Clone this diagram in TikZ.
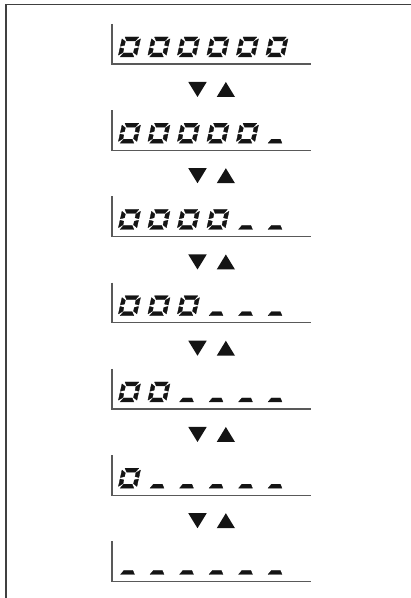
\documentclass[tikz,border=0pt]{standalone}
\begin{document}
\begin{tikzpicture}[x=1pt,y=1pt,
  seg/.style={fill=black!92, draw=black!92, line width=0.3pt, line join=round},
  panelline/.style={draw=black!65, line width=1.1pt, line join=miter},
  frameline/.style={draw=black!75, line width=1.1pt, line join=miter},
  arrowtri/.style={fill=black!92, draw=none},
  pics/zero/.style={code={
    \begin{scope}[xslant=0.22]
      \filldraw[seg] (2.6,20) -- (16.4,20) -- (13.8,16) -- (5.2,16) -- cycle;
      \filldraw[seg] (2.1,0) -- (15.9,0) -- (13.3,4) -- (4.7,4) -- cycle;
      \filldraw[seg] (0,10.7) -- (0,18.2) -- (4,15.4) -- (4,11.7) -- cycle;
      \filldraw[seg] (0,9.3) -- (0,1.8) -- (4,4.6) -- (4,8.3) -- cycle;
      \filldraw[seg] (18.5,10.7) -- (18.5,18.2) -- (14.5,15.4) -- (14.5,11.7) -- cycle;
      \filldraw[seg] (18.5,9.3) -- (18.5,1.8) -- (14.5,4.6) -- (14.5,8.3) -- cycle;
    \end{scope}}},
  pics/dashseg/.style={code={
    \begin{scope}[xslant=0.22]
      \filldraw[seg] (2.5,0) -- (16.5,0) -- (14,4) -- (5,4) -- cycle;
    \end{scope}}}
]
\useasboundingbox (0,0) rectangle (411,598);
% outer frame
\coordinate (fbl) at (6,0);
\coordinate (ftl) at (6,593.3);
\coordinate (ftr) at (411,593.3);
\draw[frameline] (fbl) -- (ftl) -- (ftr);
% display panels
\foreach \k in {0,...,6}{
  \pgfmathsetmacro\B{534-86.25*\k}
  \pgfmathtruncatemacro\nz{6-\k}
  \coordinate (top\k) at (112,\B+40);
  \coordinate (corner\k) at (112,\B);
  \coordinate (end\k) at (311,\B);
  \draw[panelline] (top\k) -- (corner\k) -- (end\k);
  \foreach \i in {0,...,5}{
    \pgfmathsetmacro\X{118+29.5*\i}
    \ifnum\i<\nz
      \pic at (\X,\B+7) {zero};
    \else
      \pic at (\X,\B+7) {dashseg};
    \fi
  }
}
% arrows between panels
\foreach \k in {0,...,5}{
  \pgfmathsetmacro\B{534-86.25*\k}
  \fill[arrowtri] (188.3,\B-18) -- (206.7,\B-18) -- (197.5,\B-33) -- cycle;
  \fill[arrowtri] (216.7,\B-33) -- (235,\B-33) -- (225.85,\B-18) -- cycle;
}
\end{tikzpicture}
\end{document}
